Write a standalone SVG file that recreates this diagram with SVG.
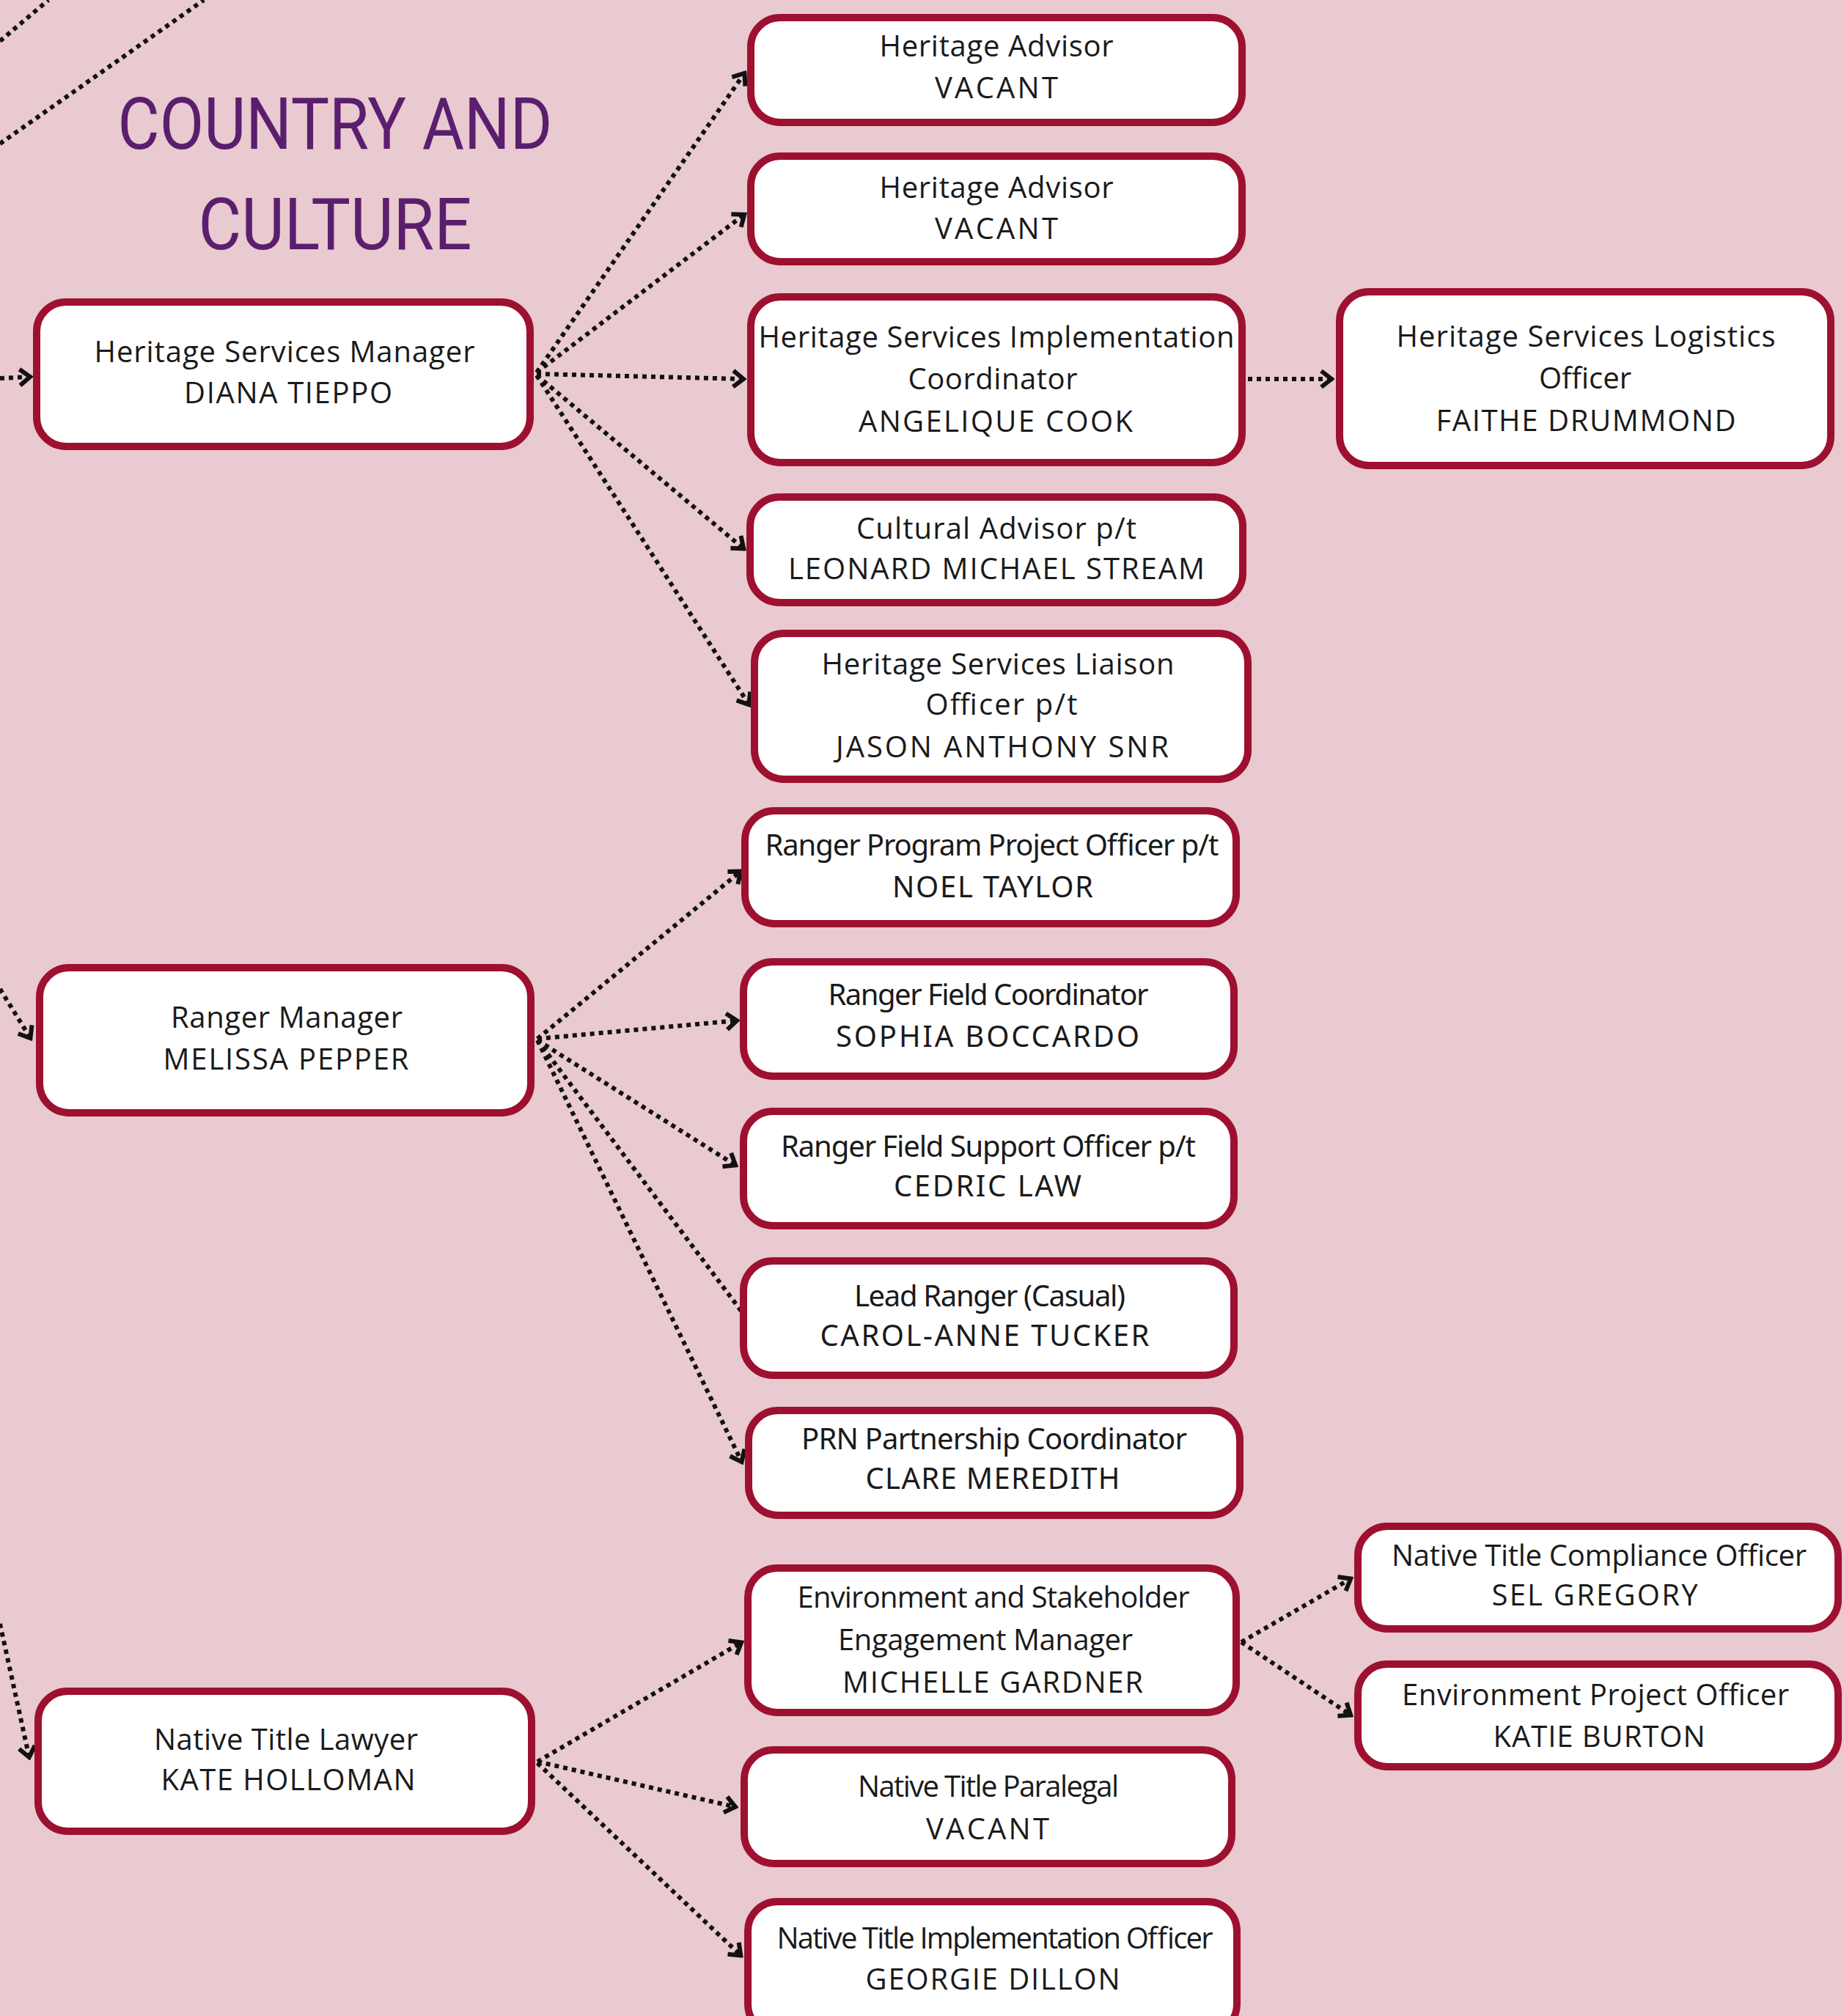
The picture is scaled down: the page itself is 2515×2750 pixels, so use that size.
<svg xmlns="http://www.w3.org/2000/svg" width="2515" height="2750" viewBox="0 0 2515 2750">
<style>
.box{fill:#ffffff;stroke:#9e1030;stroke-width:10}
.t1{font-family:"Open Sans","Liberation Sans",sans-serif;font-size:40px;fill:#1a1a1a;text-anchor:middle}
.t2{font-family:"Noto Sans","Open Sans",sans-serif;font-size:40px;fill:#1a1a1a;text-anchor:middle}
.title{font-family:Roboto,"Liberation Sans",sans-serif;font-size:98px;fill:#5b1e6e;text-anchor:middle}
.edge{fill:none;stroke:#111111;stroke-width:6;stroke-dasharray:6 6;marker-end:url(#arr)}
.edge0{fill:none;stroke:#111111;stroke-width:6;stroke-dasharray:6 6}
</style>
<defs>
<marker id="arr" viewBox="0 0 22 28" refX="19" refY="14" markerWidth="22" markerHeight="28" markerUnits="userSpaceOnUse" orient="auto">
<path d="M4,3 L18,14 L4,25" fill="none" stroke="#111111" stroke-width="6" stroke-dasharray="none"/>
</marker>
</defs>
<rect x="0" y="0" width="2515" height="2750" fill="#e8cad0"/>
<g id="title">
<text class="title" x="457" y="203" textLength="593" lengthAdjust="spacingAndGlyphs">COUNTRY AND</text>
<text class="title" x="457" y="340" textLength="373" lengthAdjust="spacingAndGlyphs">CULTURE</text>
</g>
<g id="connectors">
<line class="edge0" x1="0" y1="56" x2="66" y2="0"/>
<line class="edge0" x1="0" y1="196" x2="278" y2="0"/>
<line class="edge" x1="0" y1="516" x2="42" y2="514"/>
<line class="edge" x1="0" y1="1349" x2="42" y2="1417"/>
<line class="edge" x1="0" y1="2215" x2="40" y2="2398"/>
<line class="edge" x1="732" y1="508" x2="1016" y2="99"/>
<line class="edge" x1="732" y1="508" x2="1016" y2="292"/>
<line class="edge" x1="732" y1="510" x2="1015" y2="517"/>
<line class="edge" x1="732" y1="512" x2="1015" y2="749"/>
<line class="edge" x1="732" y1="512" x2="1022" y2="962"/>
<line class="edge" x1="1702" y1="517" x2="1817" y2="517"/>
<line class="edge" x1="733" y1="1417" x2="1011" y2="1188"/>
<line class="edge" x1="733" y1="1417" x2="1006" y2="1392"/>
<line class="edge" x1="733" y1="1419" x2="1004" y2="1590"/>
<line class="edge" x1="733" y1="1419" x2="1028" y2="1811"/>
<line class="edge" x1="733" y1="1419" x2="1012" y2="1995"/>
<line class="edge" x1="733" y1="2403" x2="1012" y2="2240"/>
<line class="edge" x1="733" y1="2403" x2="1004" y2="2465"/>
<line class="edge" x1="733" y1="2405" x2="1011" y2="2668"/>
<line class="edge" x1="1693" y1="2240" x2="1843" y2="2153"/>
<line class="edge" x1="1693" y1="2240" x2="1843" y2="2340"/>
</g>
<g id="heritage-services-manager">
<rect class="box" x="50" y="412" width="673" height="197" rx="40"/>
<text class="t1" x="388" y="494" textLength="519">Heritage Services Manager</text>
<text class="t1" x="393" y="550" textLength="284">DIANA TIEPPO</text>
</g>
<g id="heritage-advisor-1">
<rect class="box" x="1024" y="24" width="670" height="143" rx="40"/>
<text class="t1" x="1359" y="77" textLength="319">Heritage Advisor</text>
<text class="t1" x="1359" y="134" textLength="168">VACANT</text>
</g>
<g id="heritage-advisor-2">
<rect class="box" x="1024" y="213" width="670" height="144" rx="40"/>
<text class="t1" x="1359" y="270" textLength="319">Heritage Advisor</text>
<text class="t1" x="1359" y="326" textLength="168">VACANT</text>
</g>
<g id="heritage-services-implementation-coordinator">
<rect class="box" x="1024" y="405" width="670" height="226" rx="40"/>
<text class="t1" x="1359" y="474" textLength="649">Heritage Services Implementation</text>
<text class="t1" x="1354" y="531" textLength="231">Coordinator</text>
<text class="t1" x="1358" y="589" textLength="374">ANGELIQUE COOK</text>
</g>
<g id="heritage-services-logistics-officer">
<rect class="box" x="1827" y="398" width="670" height="237" rx="40"/>
<text class="t1" x="2163" y="473" textLength="517">Heritage Services Logistics</text>
<text class="t1" x="2162" y="530" textLength="126">Officer</text>
<text class="t1" x="2163" y="588" textLength="409">FAITHE DRUMMOND</text>
</g>
<g id="cultural-advisor">
<rect class="box" x="1023" y="678" width="672" height="144" rx="40"/>
<text class="t1" x="1359" y="735" textLength="382">Cultural Advisor p/t</text>
<text class="t1" x="1359" y="790" textLength="568">LEONARD MICHAEL STREAM</text>
</g>
<g id="heritage-services-liaison-officer">
<rect class="box" x="1029" y="864" width="673" height="199" rx="40"/>
<text class="t1" x="1361" y="920" textLength="481">Heritage Services Liaison</text>
<text class="t1" x="1366" y="975" textLength="207">Officer p/t</text>
<text class="t1" x="1367" y="1033" textLength="454">JASON ANTHONY SNR</text>
</g>
<g id="ranger-manager">
<rect class="box" x="54" y="1320" width="670" height="198" rx="40"/>
<text class="t1" x="391" y="1402" textLength="316">Ranger Manager</text>
<text class="t1" x="390" y="1459" textLength="335">MELISSA PEPPER</text>
</g>
<g id="ranger-program-project-officer">
<rect class="box" x="1016" y="1106" width="670" height="154" rx="40"/>
<text class="t2" x="1353" y="1167" textLength="619">Ranger Program Project Officer  p/t</text>
<text class="t2" x="1354" y="1224" textLength="274">NOEL TAYLOR</text>
</g>
<g id="ranger-field-coordinator">
<rect class="box" x="1014" y="1312" width="669" height="156" rx="40"/>
<text class="t2" x="1348" y="1371" textLength="437">Ranger Field Coordinator</text>
<text class="t2" x="1347" y="1428" textLength="414">SOPHIA BOCCARDO</text>
</g>
<g id="ranger-field-support-officer">
<rect class="box" x="1014" y="1516" width="669" height="156" rx="40"/>
<text class="t2" x="1348" y="1578" textLength="566">Ranger Field Support Officer p/t</text>
<text class="t2" x="1347" y="1632" textLength="256">CEDRIC LAW</text>
</g>
<g id="lead-ranger">
<rect class="box" x="1014" y="1720" width="669" height="156" rx="40"/>
<text class="t2" x="1350" y="1782" textLength="370">Lead Ranger (Casual)</text>
<text class="t2" x="1343" y="1836" textLength="449">CAROL-ANNE TUCKER</text>
</g>
<g id="prn-partnership-coordinator">
<rect class="box" x="1021" y="1924" width="670" height="143" rx="40"/>
<text class="t2" x="1356" y="1977" textLength="526">PRN Partnership Coordinator</text>
<text class="t2" x="1354" y="2031" textLength="347">CLARE MEREDITH</text>
</g>
<g id="native-title-lawyer">
<rect class="box" x="52" y="2307" width="673" height="191" rx="40"/>
<text class="t1" x="390" y="2387" textLength="360">Native Title Lawyer</text>
<text class="t1" x="393" y="2442" textLength="347">KATE HOLLOMAN</text>
</g>
<g id="environment-stakeholder-engagement-manager">
<rect class="box" x="1020" y="2139" width="666" height="197" rx="40"/>
<text class="t1" x="1355" y="2193" textLength="535">Environment and Stakeholder</text>
<text class="t1" x="1344" y="2251" textLength="402">Engagement Manager</text>
<text class="t1" x="1354" y="2309" textLength="410">MICHELLE GARDNER</text>
</g>
<g id="native-title-paralegal">
<rect class="box" x="1015" y="2387" width="665" height="155" rx="40"/>
<text class="t1" x="1348" y="2451" textLength="356">Native Title Paralegal</text>
<text class="t1" x="1347" y="2509" textLength="168">VACANT</text>
</g>
<g id="native-title-implementation-officer">
<rect class="box" x="1020" y="2594" width="667" height="180" rx="40"/>
<text class="t1" x="1357" y="2658" textLength="595">Native Title Implementation Officer</text>
<text class="t1" x="1354" y="2714" textLength="347">GEORGIE DILLON</text>
</g>
<g id="native-title-compliance-officer">
<rect class="box" x="1852" y="2082" width="655" height="140" rx="40"/>
<text class="t1" x="2181" y="2136" textLength="566">Native Title Compliance Officer</text>
<text class="t1" x="2175" y="2190" textLength="281">SEL GREGORY</text>
</g>
<g id="environment-project-officer">
<rect class="box" x="1852" y="2270" width="655" height="140" rx="40"/>
<text class="t1" x="2176" y="2326" textLength="528">Environment Project Officer</text>
<text class="t1" x="2181" y="2383" textLength="289">KATIE BURTON</text>
</g>
</svg>
